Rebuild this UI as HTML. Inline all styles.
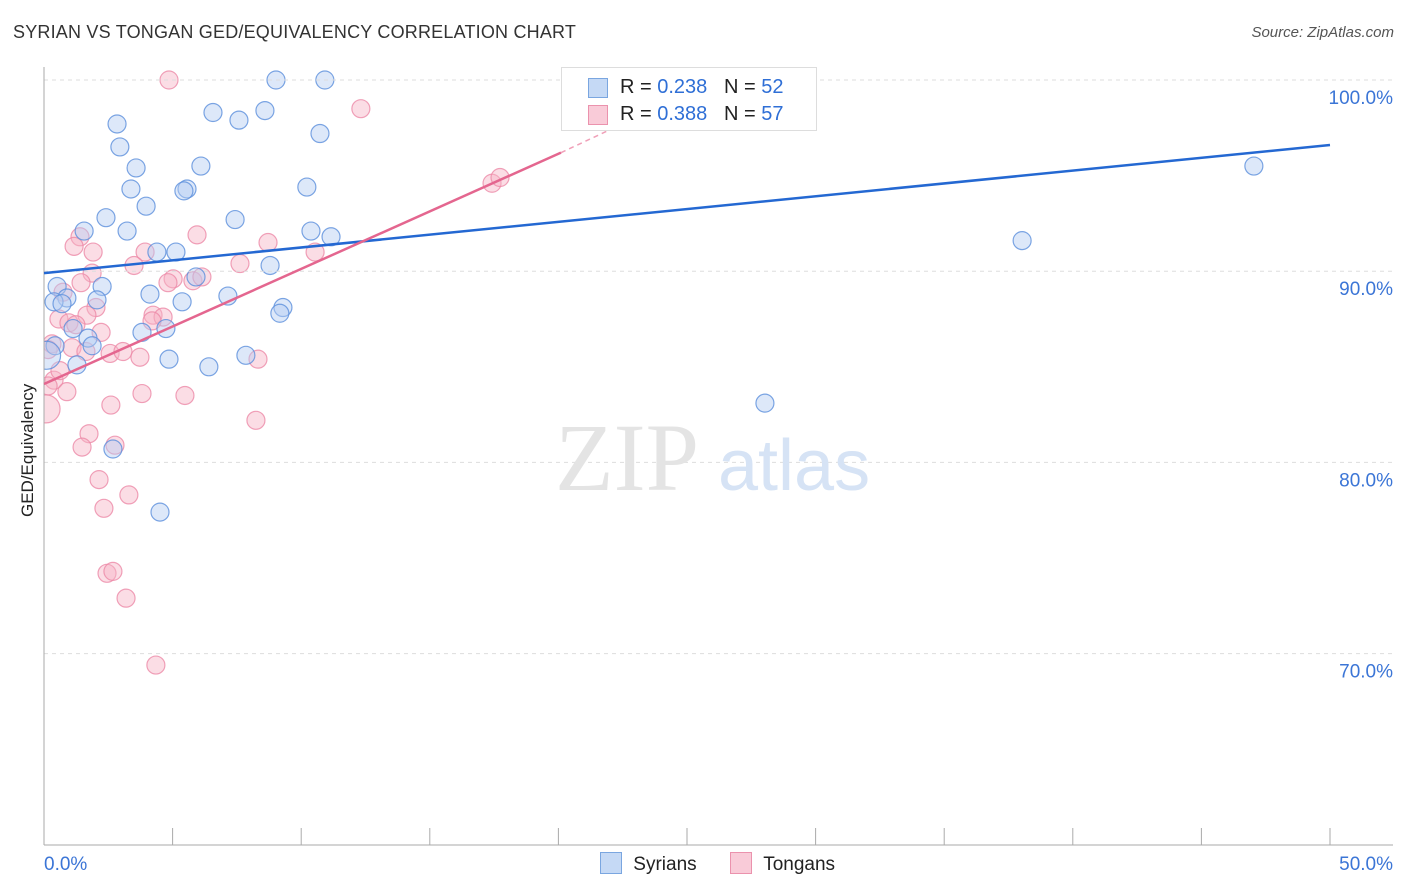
<!DOCTYPE html>
<html><head><meta charset="utf-8">
<style>
body{margin:0;background:#fff;font-family:"Liberation Sans",sans-serif;}
#wrap{position:relative;width:1406px;height:892px;overflow:hidden;}
.t{position:absolute;white-space:nowrap;}
</style></head>
<body>
<div id="wrap">
<div class="t" style="left:13px;top:22px;font-size:18px;color:#333;letter-spacing:0.2px">SYRIAN VS TONGAN GED/EQUIVALENCY CORRELATION CHART</div>
<div class="t" style="right:12px;top:24px;font-size:15px;color:#555;font-style:italic">Source: ZipAtlas.com</div>
<div class="t" style="left:-32px;top:447px;font-size:17px;color:#222;transform:rotate(-90deg);transform-origin:center;width:120px;text-align:center">GED/Equivalency</div>
<svg id="svg" width="1406" height="892" style="position:absolute;left:0;top:0"><defs><clipPath id="cp"><rect x="44" y="60" width="1360" height="785"/></clipPath></defs><g id="g" clip-path="url(#cp)"></g></svg>
<div style="position:absolute;left:561px;top:67px;width:254px;height:62px;border:1px solid #ddd;background:#fff">
 <div style="position:absolute;left:26px;top:8px;font-size:20px;color:#222"><span style="display:inline-block;width:18px;height:18px;background:#c5d9f5;border:1px solid #7aa6e0;position:absolute;left:0;top:2px"></span><span style="margin-left:32px">R = <span style="color:#2f6fd6">0.238</span>&nbsp;&nbsp;&nbsp;N = <span style="color:#2f6fd6">52</span></span></div>
 <div style="position:absolute;left:26px;top:35px;font-size:20px;color:#222"><span style="display:inline-block;width:18px;height:18px;background:#f9cbd8;border:1px solid #eb92ad;position:absolute;left:0;top:2px"></span><span style="margin-left:32px">R = <span style="color:#2f6fd6">0.388</span>&nbsp;&nbsp;&nbsp;N = <span style="color:#2f6fd6">57</span></span></div>
</div>
<div style="position:absolute;left:600px;top:852px;font-size:19px;color:#222">
 <span style="display:inline-block;width:20px;height:20px;background:#c5d9f5;border:1px solid #7aa6e0;vertical-align:-4px"></span> <span style="margin-left:6px">Syrians</span>
 <span style="display:inline-block;width:20px;height:20px;background:#f9cbd8;border:1px solid #eb92ad;vertical-align:-4px;margin-left:28px"></span> <span style="margin-left:6px">Tongans</span>
</div>
</div>
<script>
const yTicks=[100,90,80,70];
const xTickLabels=["0.0%","50.0%"];
const syrX=[2.84,2.95,3.58,3.38,3.97,2.41,3.23,1.56,6.57,7.58,8.59,9.02,10.92,10.73,10.22,6.1,5.56,5.44,7.43,10.38,11.16,5.13,4.39,8.79,5.91,2.26,0.51,0.89,2.06,4.12,5.37,7.15,9.29,9.17,0.39,0.7,1.13,1.71,3.81,4.74,1.87,0.43,1.28,4.86,6.41,7.85,2.68,4.51,28.03,38.03,47.04,27.84,0.1];
const syrY=[97.7,96.5,95.4,94.3,93.4,92.8,92.1,92.1,98.3,97.9,98.4,100,100,97.2,94.4,95.5,94.3,94.2,92.7,92.1,91.8,91.0,91.0,90.3,89.7,89.2,89.2,88.6,88.5,88.8,88.4,88.7,88.1,87.8,88.4,88.3,87.0,86.5,86.8,87.0,86.1,86.1,85.1,85.4,85.0,85.6,80.7,77.4,83.1,91.6,95.5,100,85.6];
const tonX=[4.86,12.32,17.42,17.73,1.4,1.17,1.91,3.93,5.95,8.71,10.54,7.62,3.5,1.87,1.44,5.02,4.82,5.79,6.14,0.74,2.02,1.67,0.58,0.97,1.24,4.24,4.63,4.2,2.22,1.09,1.63,2.57,3.07,3.73,8.32,0.31,0.16,0.39,0.89,3.81,5.48,2.6,0.08,8.24,1.75,2.76,1.48,2.14,3.3,2.33,2.45,2.68,3.19,4.35,0.16,0.62];
const tonY=[100,98.5,94.6,94.9,91.8,91.3,91.0,91.0,91.9,91.5,91.0,90.4,90.3,89.9,89.4,89.6,89.4,89.5,89.7,88.9,88.1,87.7,87.5,87.3,87.2,87.7,87.6,87.4,86.8,86.0,85.8,85.7,85.8,85.5,85.4,86.2,85.9,84.3,83.7,83.6,83.5,83.0,82.8,82.2,81.5,80.9,80.8,79.1,78.3,77.6,74.2,74.3,72.9,69.4,84.0,84.8];
const syrR=[0,0,0,0,0,0,0,0,0,0,0,0,0,0,0,0,0,0,0,0,0,0,0,0,0,0,0,0,0,0,0,0,0,0,0,0,0,0,0,0,0,0,0,0,0,0,0,0,0,0,0,0,1];
const tonR=[0,0,0,0,0,0,0,0,0,0,0,0,0,0,0,0,0,0,0,0,0,0,0,0,0,0,0,0,0,0,0,0,0,0,0,0,0,0,0,0,0,0,1,0,0,0,0,0,0,0,0,0,0,0,0,0];
const syrLine=[[0,89.9],[50,96.6]];
const tonLine=[[0,84.1],[20.1,96.2]];
const tonDash=[[20.1,96.2],[22.8,97.9]];
const X=v=>44+v/50*1286, Y=v=>80+(100-v)*19.12;
const svg=document.getElementById('svg'),G=document.getElementById('g'),NS='http://www.w3.org/2000/svg';
function mk(t,a,p){const e=document.createElementNS(NS,t);for(const k in a)e.setAttribute(k,a[k]);(p||svg).appendChild(e);return e;}
yTicks.forEach(v=>{
 const l=mk('line',{x1:44,x2:1393,y1:Y(v),y2:Y(v),stroke:'#ddd','stroke-dasharray':'4,4'});
 
 
 const t=mk('text',{x:1393,y:Y(v)+24,'text-anchor':'end','font-size':19,fill:'#3b75d6','font-family':'Liberation Sans'});
 t.textContent=v.toFixed(1)+'%';
 
 
});
for(let i=0;i<=10;i++){const tk=mk('line',{x1:X(i*5),x2:X(i*5),y1:828,y2:845,stroke:'#aaa'});
 
 }
[[0,'start',44],[1,'end',1393]].forEach(([i,a,x])=>{const t=mk('text',{x:x,y:870,'text-anchor':a,'font-size':19,fill:'#3b75d6','font-family':'Liberation Sans'});t.textContent=xTickLabels[i];
 
 });
const wm=mk('text',{x:555,y:490,'font-size':96,fill:'#e4e4e4','font-family':'Liberation Serif'});wm.textContent='ZIP';


const wm2=mk('text',{x:718,y:490,'font-size':72,fill:'#d6e3f5','font-family':'Liberation Sans'});wm2.textContent='atlas';


function pts(xs,ys,rs,fill,stroke,name){xs.forEach((x,i)=>{const c=mk('circle',{cx:X(x),cy:Y(ys[i]),r:rs[i]?14:9,fill:fill,'fill-opacity':0.45,stroke:stroke,'stroke-width':1.2,'stroke-opacity':0.8},G);
 
 });}
pts(tonX,tonY,tonR,'#f7b3c6','#ec8aa8','tongan-point');
pts(syrX,syrY,syrR,'#b3cdf2','#5b8fdc','syrian-point');
const ax=mk('line',{x1:44,x2:44,y1:67,y2:845,stroke:'#aaa'});


const bx=mk('line',{x1:44,x2:1393,y1:845,y2:845,stroke:'#aaa'});


const l1=mk('line',{x1:X(syrLine[0][0]),y1:Y(syrLine[0][1]),x2:X(syrLine[1][0]),y2:Y(syrLine[1][1]),stroke:'#2468d2','stroke-width':2.5});


const l2=mk('line',{x1:X(tonLine[0][0]),y1:Y(tonLine[0][1]),x2:X(tonLine[1][0]),y2:Y(tonLine[1][1]),stroke:'#e4668f','stroke-width':2.5});


const l3=mk('line',{x1:X(tonDash[0][0]),y1:Y(tonDash[0][1]),x2:X(tonDash[1][0]),y2:Y(tonDash[1][1]),stroke:'#f0a0b8','stroke-width':1.5,'stroke-dasharray':'5,4'});


</script>
</body></html>
